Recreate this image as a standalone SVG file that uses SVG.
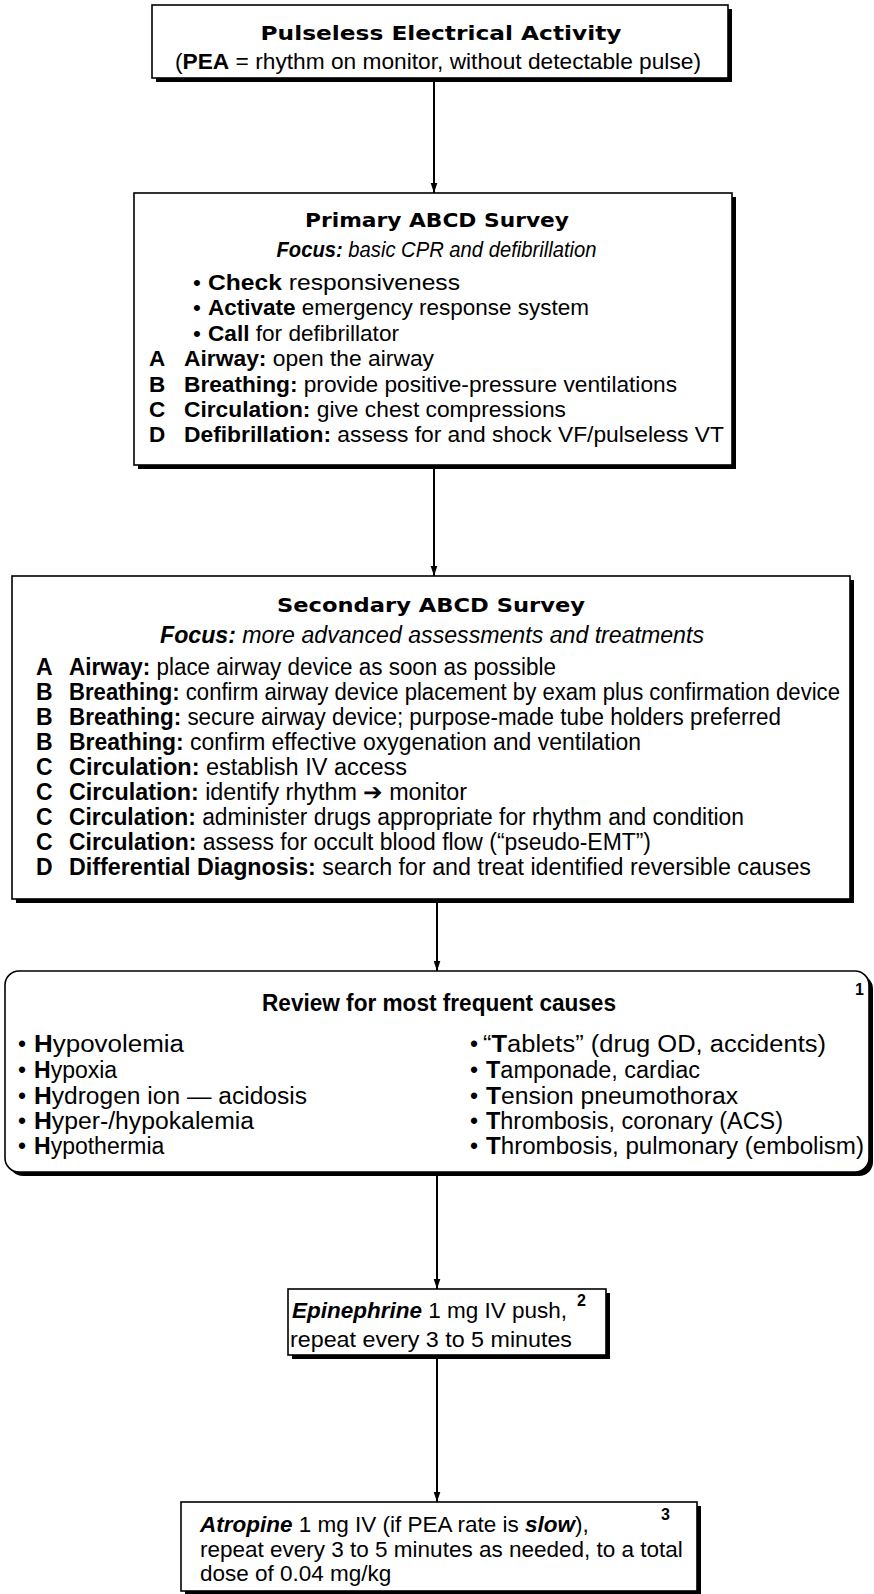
<svg xmlns="http://www.w3.org/2000/svg" width="874" height="1594" viewBox="0 0 874 1594">
<defs>
<style>
text{font-family:"Liberation Sans",Arial,sans-serif;font-size:22.5px;fill:#000}
.h{font-family:"DejaVu Sans","Liberation Sans",sans-serif;font-weight:bold;font-size:20px}
.b{font-weight:bold}
.bi{font-weight:bold;font-style:italic}
.i{font-style:italic}
.c{text-anchor:middle}
.sup{font-weight:bold;font-size:16px}
.box{fill:#fff;stroke:#000;stroke-width:1.6}
.sh{fill:#000}
.cn{font-size:23px}
.fo{font-size:21.5px}
.edge{stroke:#000;stroke-width:2;fill:none}
</style>
<marker id="ah" markerUnits="userSpaceOnUse" markerWidth="10" markerHeight="16" refX="15" refY="5" orient="auto" viewBox="0 0 15 10">
<path d="M0,0 L15,5 L0,10 z" fill="#000"/>
</marker>
</defs>
<rect width="874" height="1594" fill="#fff"/>

<g id="connectors">
<line class="edge" x1="434" y1="82" x2="434" y2="193" marker-end="url(#ah)"/>
<line class="edge" x1="434" y1="469" x2="434" y2="576" marker-end="url(#ah)"/>
<line class="edge" x1="437" y1="903" x2="437" y2="971" marker-end="url(#ah)"/>
<line class="edge" x1="437" y1="1176" x2="437" y2="1289" marker-end="url(#ah)"/>
<line class="edge" x1="437" y1="1359" x2="437" y2="1502" marker-end="url(#ah)"/>
</g>

<g id="pea">
<rect class="sh" x="156" y="9" width="576" height="73"/>
<rect class="box" x="152" y="5" width="576" height="73"/>
<text class="h c" x="441" y="40" textLength="361" lengthAdjust="spacingAndGlyphs">Pulseless Electrical Activity</text>
<text class="c" x="438" y="69" textLength="526" lengthAdjust="spacingAndGlyphs">(<tspan class="b">PEA</tspan> = rhythm on monitor, without detectable pulse)</text>
</g>

<g id="primary">
<rect class="sh" x="138" y="197" width="598" height="272"/>
<rect class="box" x="134" y="193" width="598" height="272"/>
<text class="h c" x="437" y="227" textLength="264" lengthAdjust="spacingAndGlyphs">Primary ABCD Survey</text>
<text class="c fo" x="436.5" y="257" textLength="320" lengthAdjust="spacingAndGlyphs"><tspan class="bi">Focus:</tspan><tspan class="i"> basic CPR and defibrillation</tspan></text>
<text x="193" y="289.5">•</text>
<text x="208" y="289.5" textLength="252" lengthAdjust="spacingAndGlyphs"><tspan class="b">Check</tspan> responsiveness</text>
<text x="193" y="315">•</text>
<text x="208" y="315" textLength="381" lengthAdjust="spacingAndGlyphs"><tspan class="b">Activate</tspan> emergency response system</text>
<text x="193" y="340.5">•</text>
<text x="208" y="340.5" textLength="191" lengthAdjust="spacingAndGlyphs"><tspan class="b">Call</tspan> for defibrillator</text>
<text class="b" x="149" y="366">A</text>
<text x="184" y="366" textLength="250" lengthAdjust="spacingAndGlyphs"><tspan class="b">Airway:</tspan> open the airway</text>
<text class="b" x="149" y="391.5">B</text>
<text x="184" y="391.5" textLength="493" lengthAdjust="spacingAndGlyphs"><tspan class="b">Breathing:</tspan> provide positive-pressure ventilations</text>
<text class="b" x="149" y="417">C</text>
<text x="184" y="417" textLength="382" lengthAdjust="spacingAndGlyphs"><tspan class="b">Circulation:</tspan> give chest compressions</text>
<text class="b" x="149" y="441.5">D</text>
<text x="184" y="441.5" textLength="540" lengthAdjust="spacingAndGlyphs"><tspan class="b">Defibrillation:</tspan> assess for and shock VF/pulseless VT</text>
</g>

<g id="secondary">
<rect class="sh" x="16" y="580" width="838" height="323"/>
<rect class="box" x="12" y="576" width="838" height="323"/>
<text class="h c" x="431" y="612" textLength="308" lengthAdjust="spacingAndGlyphs">Secondary ABCD Survey</text>
<text class="c cn" x="432" y="643" textLength="544" lengthAdjust="spacingAndGlyphs"><tspan class="bi">Focus:</tspan><tspan class="i"> more advanced assessments and treatments</tspan></text>
<text class="b cn" x="36" y="675">A</text>
<text class="cn" x="69" y="675" textLength="487" lengthAdjust="spacingAndGlyphs"><tspan class="b">Airway:</tspan> place airway device as soon as possible</text>
<text class="b cn" x="36" y="700">B</text>
<text class="cn" x="69" y="700" textLength="771" lengthAdjust="spacingAndGlyphs"><tspan class="b">Breathing:</tspan> confirm airway device placement by exam plus confirmation device</text>
<text class="b cn" x="36" y="725">B</text>
<text class="cn" x="69" y="725" textLength="712" lengthAdjust="spacingAndGlyphs"><tspan class="b">Breathing:</tspan> secure airway device; purpose-made tube holders preferred</text>
<text class="b cn" x="36" y="750">B</text>
<text class="cn" x="69" y="750" textLength="572" lengthAdjust="spacingAndGlyphs"><tspan class="b">Breathing:</tspan> confirm effective oxygenation and ventilation</text>
<text class="b cn" x="36" y="775">C</text>
<text class="cn" x="69" y="775" textLength="338" lengthAdjust="spacingAndGlyphs"><tspan class="b">Circulation:</tspan> establish IV access</text>
<text class="b cn" x="36" y="800">C</text>
<text class="cn" x="69" y="800" textLength="398" lengthAdjust="spacingAndGlyphs"><tspan class="b">Circulation:</tspan> identify rhythm ➔ monitor</text>
<text class="b cn" x="36" y="825">C</text>
<text class="cn" x="69" y="825" textLength="675" lengthAdjust="spacingAndGlyphs"><tspan class="b">Circulation:</tspan> administer drugs appropriate for rhythm and condition</text>
<text class="b cn" x="36" y="850">C</text>
<text class="cn" x="69" y="850" textLength="582" lengthAdjust="spacingAndGlyphs"><tspan class="b">Circulation:</tspan> assess for occult blood flow (“pseudo-EMT”)</text>
<text class="b cn" x="36" y="875">D</text>
<text class="cn" x="69" y="875" textLength="742" lengthAdjust="spacingAndGlyphs"><tspan class="b">Differential Diagnosis:</tspan> search for and treat identified reversible causes</text>
</g>

<g id="causes">
<rect class="sh" x="9" y="975" width="864" height="201" rx="14"/>
<rect class="box" x="5" y="971" width="864" height="201" rx="14"/>
<text class="b c cn" x="439" y="1011" textLength="354" lengthAdjust="spacingAndGlyphs">Review for most frequent causes</text>
<text class="sup" x="855" y="995">1</text>
<text class="cn" x="18" y="1052">•</text>
<text class="cn" x="34" y="1052" textLength="150" lengthAdjust="spacingAndGlyphs"><tspan class="b">H</tspan>ypovolemia</text>
<text class="cn" x="18" y="1078">•</text>
<text class="cn" x="34" y="1078"><tspan class="b">H</tspan>ypoxia</text>
<text class="cn" x="18" y="1104">•</text>
<text class="cn" x="34" y="1104" textLength="273" lengthAdjust="spacingAndGlyphs"><tspan class="b">H</tspan>ydrogen ion — acidosis</text>
<text class="cn" x="18" y="1129">•</text>
<text class="cn" x="34" y="1129" textLength="220" lengthAdjust="spacingAndGlyphs"><tspan class="b">H</tspan>yper-/hypokalemia</text>
<text class="cn" x="18" y="1154">•</text>
<text class="cn" x="34" y="1154"><tspan class="b">H</tspan>ypothermia</text>
<text class="cn" x="470" y="1052">•</text>
<text class="cn" x="483" y="1052" textLength="343" lengthAdjust="spacingAndGlyphs">“<tspan class="b">T</tspan>ablets” (drug OD, accidents)</text>
<text class="cn" x="470" y="1078">•</text>
<text class="cn" x="486" y="1078" textLength="214" lengthAdjust="spacingAndGlyphs"><tspan class="b">T</tspan>amponade, cardiac</text>
<text class="cn" x="470" y="1104">•</text>
<text class="cn" x="486" y="1104" textLength="252" lengthAdjust="spacingAndGlyphs"><tspan class="b">T</tspan>ension pneumothorax</text>
<text class="cn" x="470" y="1129">•</text>
<text class="cn" x="486" y="1129" textLength="297" lengthAdjust="spacingAndGlyphs"><tspan class="b">T</tspan>hrombosis, coronary (ACS)</text>
<text class="cn" x="470" y="1154">•</text>
<text class="cn" x="486" y="1154" textLength="378" lengthAdjust="spacingAndGlyphs"><tspan class="b">T</tspan>hrombosis, pulmonary (embolism)</text>
</g>

<g id="epinephrine">
<rect class="sh" x="292" y="1293" width="318" height="66"/>
<rect class="box" x="288" y="1289" width="318" height="66"/>
<text x="292" y="1318"><tspan class="bi">Epinephrine</tspan> 1 mg IV push,</text>
<text class="sup" x="577" y="1306">2</text>
<text x="290" y="1347" textLength="282" lengthAdjust="spacingAndGlyphs">repeat every 3 to 5 minutes</text>
</g>

<g id="atropine">
<rect class="sh" x="185" y="1506" width="516" height="89"/>
<rect class="box" x="181" y="1502" width="516" height="89"/>
<text x="200" y="1532"><tspan class="bi">Atropine</tspan> 1 mg IV (if PEA rate is <tspan class="bi">slow</tspan>),</text>
<text class="sup" x="661" y="1520">3</text>
<text x="200" y="1557">repeat every 3 to 5 minutes as needed, to a total</text>
<text x="200" y="1581">dose of 0.04 mg/kg</text>
</g>
</svg>
